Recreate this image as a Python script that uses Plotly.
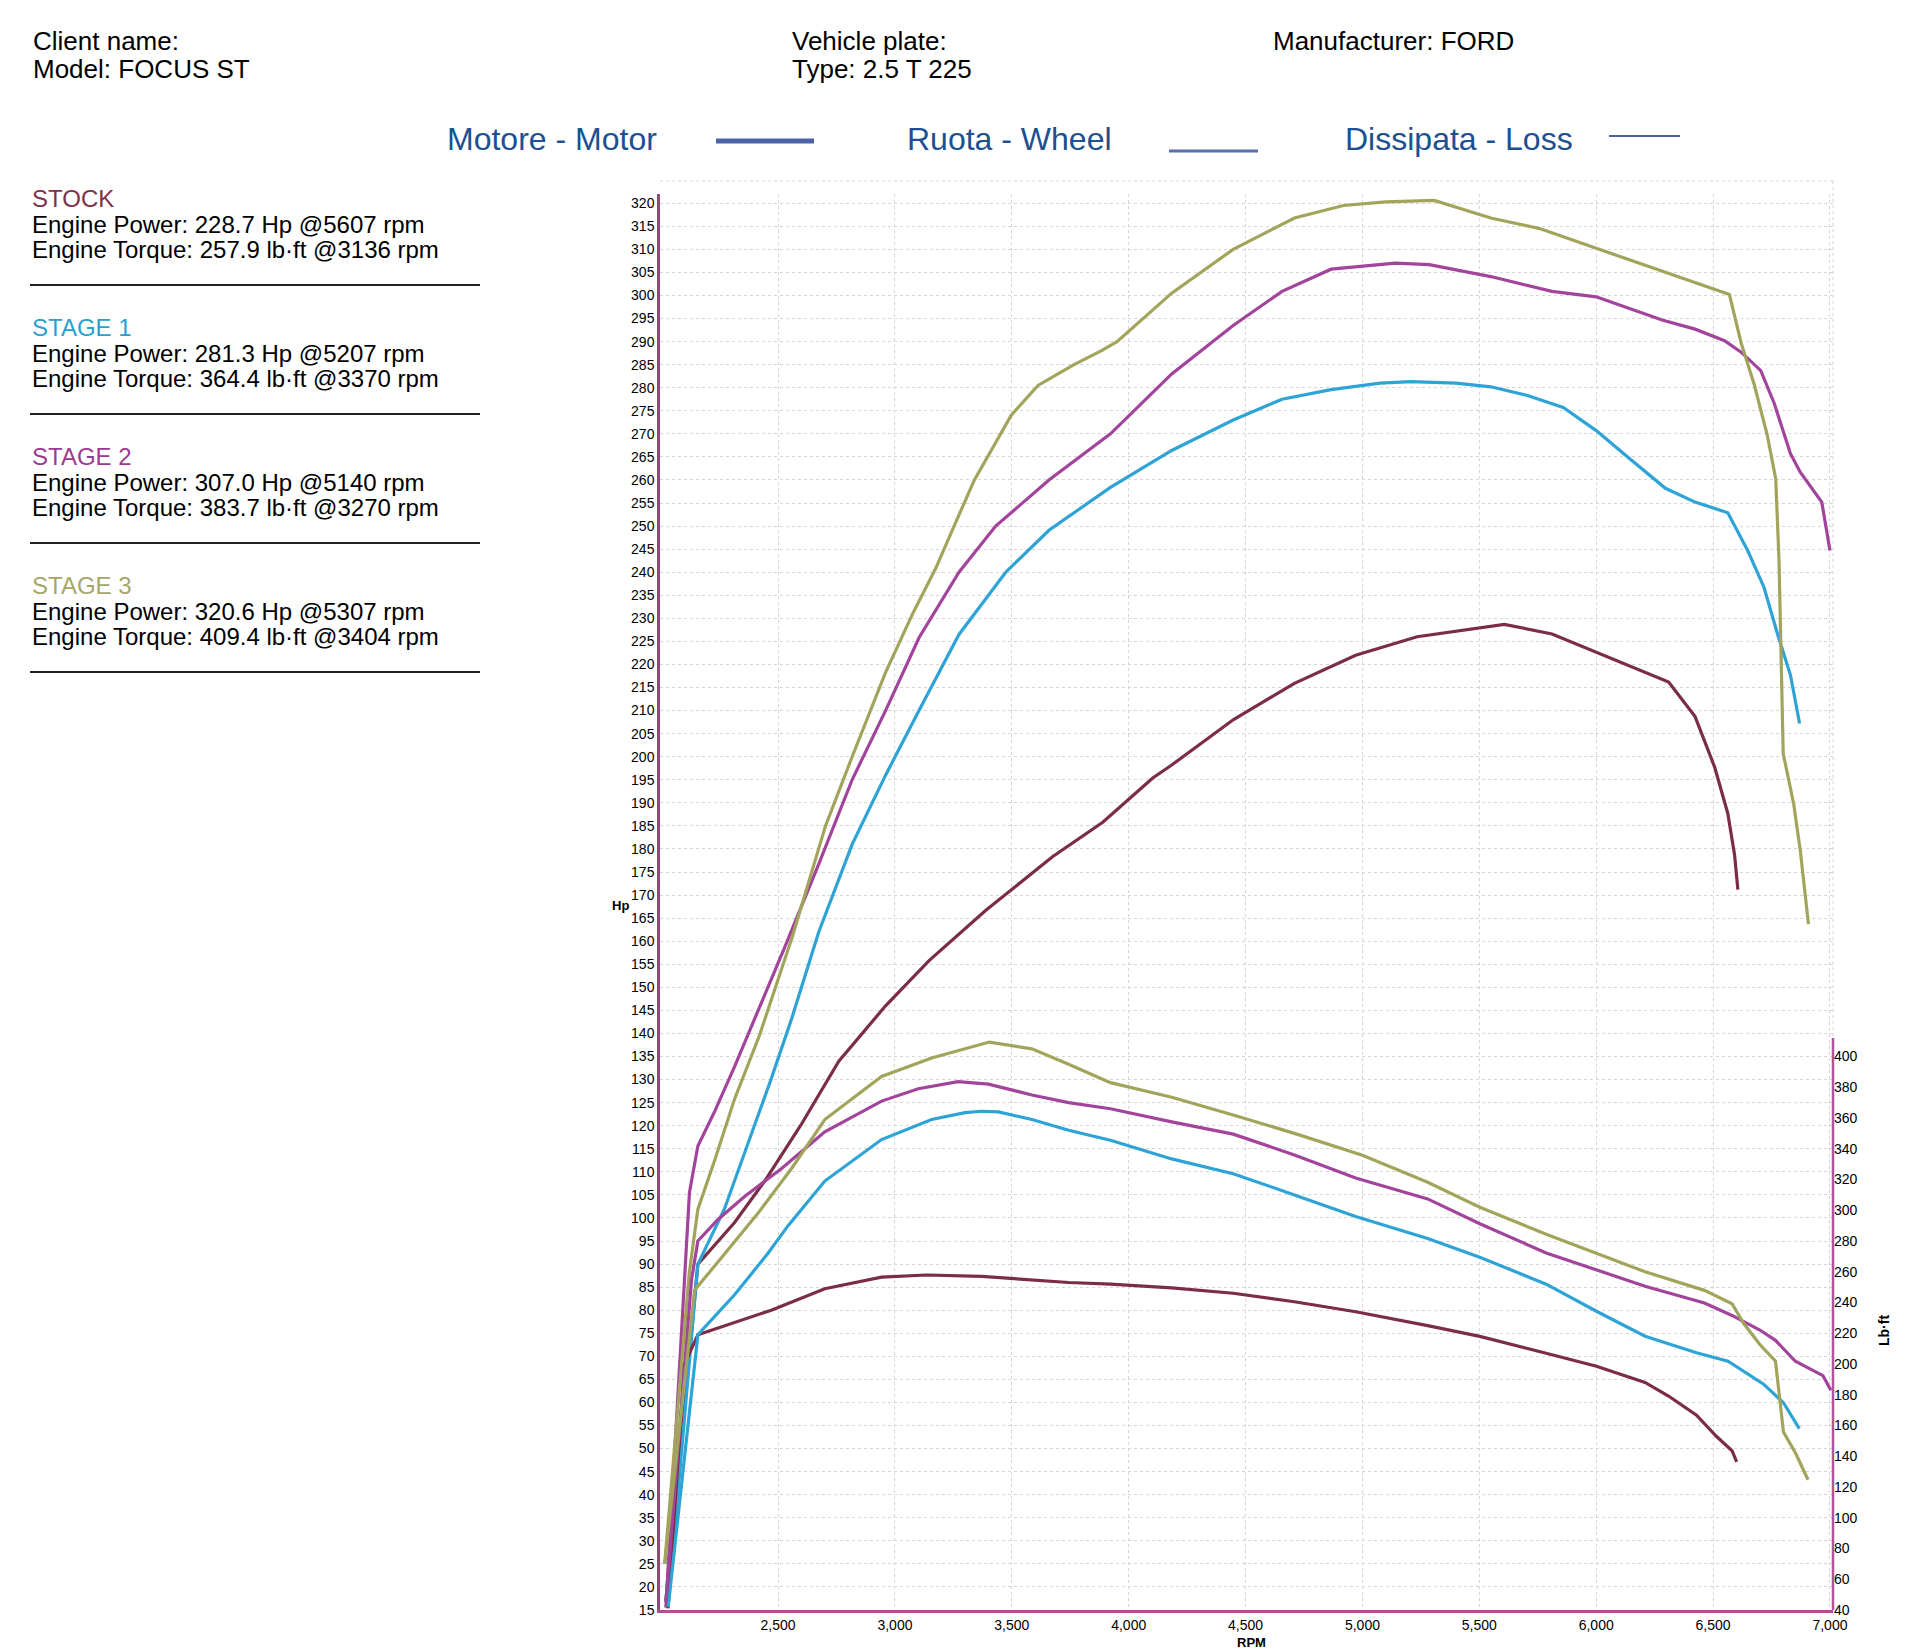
import plotly.graph_objects as go

# dyno sheet values
stage_names = ["STOCK", "STAGE 1", "STAGE 2", "STAGE 3"]
stage_colors = ["#7a2d45", "#2ea3d6", "#a2449b", "#a3a45c"]
label_colors = ["#7d3249", "#2a9fd0", "#9b3b8f", "#a6a66a"]
peak_power = [228.7, 281.3, 307.0, 320.6]
peak_power_rpm = [5607, 5207, 5140, 5307]
peak_torque = [257.9, 364.4, 383.7, 409.4]
peak_torque_rpm = [3136, 3370, 3270, 3404]

stock_hp_rpm = [2020, 2157, 2314, 2443, 2596, 2760, 2960, 3146, 3389, 3489, 3674, 3889, 4103, 4184,
                4447, 4709, 4971, 5234, 5496, 5607, 5811, 6000, 6141, 6310, 6423, 6507, 6563, 6592, 6606]
stock_hp = [17, 90, 99, 108, 120, 134, 146, 155.8, 166.7, 170.8, 178.3, 185.8, 195.4, 198.2,
            208, 215.9, 222, 226, 227.9, 228.7, 226.6, 222.7, 219.7, 216.2, 208.7, 197.7, 187.7, 178.7, 171.2]
stock_tq_rpm = [2029, 2100, 2157, 2314, 2471, 2700, 2943, 3136, 3371, 3743, 3922, 4184, 4447, 4709,
                4971, 5279, 5502, 5786, 6001, 6209, 6311, 6429, 6514, 6581, 6601]
stock_tq = [41, 200, 219, 227, 235, 249, 256.5, 257.9, 257, 253, 252, 249.5, 246, 240.5,
            234, 225, 218, 207, 198.5, 188, 179, 166.7, 153, 143.6, 136.3]

st1_hp_rpm = [2030, 2157, 2271, 2371, 2471, 2557, 2674, 2817, 2960, 3103, 3274, 3474, 3659, 3922, 4184,
              4447, 4656, 4866, 5076, 5207, 5400, 5549, 5706, 5859, 6000, 6141, 6296, 6423, 6563, 6648,
              6718, 6775, 6831, 6870]
st1_hp = [16, 90, 102, 116, 130.2, 143, 162, 181, 196, 210, 226.5, 240, 249.1, 258.4, 266.4,
          273, 277.5, 279.6, 281, 281.3, 281, 280.2, 278.3, 275.7, 270.7, 264.7, 258.2, 255.2, 252.9, 244.7,
          236.7, 226.7, 217.7, 207.2]
st1_tq_rpm = [2030, 2157, 2314, 2457, 2543, 2700, 2943, 3157, 3300, 3370, 3443, 3586, 3743, 3922, 4184,
              4447, 4709, 4971, 5279, 5502, 5786, 6001, 6209, 6429, 6564, 6716, 6801, 6869]
st1_tq = [42, 219, 245, 272, 290, 319, 346, 359, 363.5, 364.4, 364, 359, 352, 345.5, 333.4,
          323.8, 310, 296, 281.7, 269.5, 251.9, 234.3, 218.1, 207.3, 201.8, 186.9, 174.8, 158]

st2_hp_rpm = [2020, 2121, 2157, 2229, 2314, 2374, 2414, 2531, 2674, 2817, 2960, 3103, 3274, 3431, 3659,
              3922, 4184, 4447, 4656, 4866, 5140, 5286, 5549, 5811, 6000, 6141, 6282, 6423, 6549, 6620,
              6704, 6761, 6831, 6873, 6965, 7000]
st2_hp = [15.5, 105.5, 115.6, 123.1, 132.8, 140, 145, 159, 176.7, 195, 210, 225.8, 240, 250, 260,
          270, 283, 293.5, 300.9, 305.7, 307, 306.7, 304.1, 300.9, 299.7, 297.2, 294.7, 292.7, 290.2, 287.7,
          283.7, 276.7, 265.7, 261.7, 255.2, 244.7]
st2_tq_rpm = [2020, 2130, 2157, 2243, 2357, 2514, 2700, 2943, 3100, 3270, 3400, 3586, 3743, 3922, 4184,
              4447, 4709, 4971, 5279, 5502, 5786, 6001, 6209, 6463, 6581, 6700, 6767, 6852, 6970, 7004]
st2_tq = [45, 255, 280, 294, 309, 327, 351, 371, 379, 383.7, 382, 375, 370, 366, 357.5,
          349.5, 336, 321, 307.4, 291.2, 272.2, 261.4, 250.6, 239.7, 231.6, 222.1, 215.4, 201.8, 192.4, 182.9]

st3_hp_rpm = [2015, 2120, 2157, 2229, 2314, 2420, 2560, 2703, 2817, 2960, 3074, 3174, 3253, 3340, 3497,
              3612, 3766, 3882, 3950, 4184, 4447, 4709, 4919, 5100, 5307, 5549, 5758, 6000, 6141, 6282,
              6423, 6570, 6620, 6676, 6732, 6768, 6782, 6789, 6800, 6845, 6873, 6908]
st3_hp = [25, 88, 101.9, 112.5, 125.8, 139.5, 160.8, 185, 200, 218.3, 230.8, 240.8, 250, 260, 274,
          280.5, 285, 288, 290, 300.5, 310, 316.8, 319.5, 320.3, 320.6, 316.8, 314.5, 310.2, 307.7, 305.2,
          302.7, 300.2, 289.7, 280.7, 269.7, 260.2, 242.7, 225.7, 200.7, 189.7, 179.7, 163.7]
st3_tq_rpm = [2015, 2143, 2257, 2414, 2557, 2700, 2943, 3157, 3404, 3586, 3743, 3922, 4184, 4447, 4709,
              5000, 5279, 5502, 5786, 6001, 6209, 6463, 6581, 6632, 6700, 6767, 6801, 6852, 6906]
st3_tq = [70, 248, 269, 298, 327, 359, 387, 399, 409.4, 405, 395, 383, 373.5, 362, 350,
          335.8, 318.2, 302, 284.4, 272.2, 260, 247.9, 239.2, 226.2, 212.7, 201.8, 155.8, 142.3, 124.7]

x_ticks = [2500, 3000, 3500, 4000, 4500, 5000, 5500, 6000, 6500, 7000]
hp_ticks = list(range(15, 325, 5))
tq_ticks = list(range(40, 420, 20))

W, H = 1920, 1649
ML, MR, MT, MB = 652, 95, 186, 47
FONT = "Arial, 'Liberation Sans', sans-serif"
HP_RANGE = [15, 322]
TQ_RANGE = [40, 40 + 3 * (HP_RANGE[1] - HP_RANGE[0])]


def px(x):
    return (x - ML) / (W - ML - MR)


def py(y):
    return (H - MB - y) / (H - MT - MB)


fig = go.Figure()

power = [(stock_hp_rpm, stock_hp), (st1_hp_rpm, st1_hp), (st2_hp_rpm, st2_hp), (st3_hp_rpm, st3_hp)]
torque = [(stock_tq_rpm, stock_tq), (st1_tq_rpm, st1_tq), (st2_tq_rpm, st2_tq), (st3_tq_rpm, st3_tq)]

for name, color, (r, v) in zip(stage_names, stage_colors, power):
    fig.add_trace(go.Scatter(x=r, y=v, mode="lines", name=f"{name} Hp",
                             line=dict(color=color, width=3.2)))
for name, color, (r, v) in zip(stage_names, stage_colors, torque):
    fig.add_trace(go.Scatter(x=r, y=v, mode="lines", name=f"{name} lb-ft", yaxis="y2",
                             line=dict(color=color, width=3.2)))

annotations = []


def text(x, y, s, size=26, color="black", anchor="left", **kw):
    annotations.append(dict(x=px(x), y=py(y), xref="paper", yref="paper", text=s, showarrow=False,
                            xanchor=anchor, yanchor="middle",
                            font=dict(family=FONT, size=size, color=color), **kw))


# header
text(23, 33, "Client name:")
text(23, 61, "Model: FOCUS ST")
text(782, 33, "Vehicle plate:")
text(782, 61, "Type: 2.5 T 225")
text(1263, 33, "Manufacturer: FORD")

# legend row
legend_blue = "#1d4f91"
text(437, 131, "Motore - Motor", size=32, color=legend_blue)
text(897, 131, "Ruota - Wheel", size=32, color=legend_blue)
text(1335, 131, "Dissipata - Loss", size=32, color=legend_blue)

dotted = dict(color="#d6d6d6", width=1, dash="dot")
shapes = [
    dict(type="line", xref="paper", yref="paper", x0=px(708), x1=px(806), y0=py(133), y1=py(133),
         line=dict(color="#4b62a6", width=5)),
    dict(type="line", xref="paper", yref="paper", x0=px(1161), x1=px(1250), y0=py(143), y1=py(143),
         line=dict(color="#5a6fb0", width=3)),
    dict(type="line", xref="paper", yref="paper", x0=px(1601), x1=px(1672), y0=py(128), y1=py(128),
         line=dict(color="#4b62a6", width=2)),
    # dotted frame above and right of the grid
    dict(type="line", xref="paper", yref="paper", x0=0, x1=1, y0=py(173), y1=py(173), line=dotted),
    dict(type="line", xref="paper", yref="paper", x0=1, x1=1, y0=py(173), y1=py(1040), line=dotted),
    # right torque axis only runs up to the top of the torque scale
    dict(type="line", xref="paper", yref="y2", x0=1, x1=1, y0=40, y1=412,
         line=dict(color="#b0559a", width=2.5)),
]

# left summary panel
for i, name in enumerate(stage_names):
    top = 190 + i * 129
    text(22, top, name, size=24, color=label_colors[i])
    text(22, top + 26, f"Engine Power: {peak_power[i]:.1f} Hp @{peak_power_rpm[i]} rpm", size=24)
    text(22, top + 51, f"Engine Torque: {peak_torque[i]:.1f} lb·ft @{peak_torque_rpm[i]} rpm", size=24)
    shapes.append(dict(type="line", xref="paper", yref="paper", x0=px(22), x1=px(472),
                       y0=py(top + 87), y1=py(top + 87), line=dict(color="#222222", width=2)))

# axis titles
text(612, 897, "<b>Hp</b>", size=13, anchor="center")
text(1243, 1634, "<b>RPM</b>", size=13, anchor="center")
text(1876, 1323, "<b>Lb·ft</b>", size=14, anchor="center", textangle=-90)

grid = dict(showgrid=True, gridcolor="#d6d6d6", gridwidth=1, griddash="dot", zeroline=False, ticks="")

fig.update_layout(
    width=W,
    height=H,
    autosize=False,
    showlegend=False,
    plot_bgcolor="white",
    paper_bgcolor="white",
    margin=dict(l=ML, r=MR, t=MT, b=MB),
    font=dict(family=FONT, color="black"),
    xaxis=dict(range=[1995, 7013], tickvals=x_ticks, tickformat=",d",
               tickfont=dict(size=14), showline=True, linecolor="#b0508e", linewidth=3, **grid),
    yaxis=dict(range=HP_RANGE, tickvals=hp_ticks, tickfont=dict(size=14),
               showline=True, linecolor="#8e4b76", linewidth=2.5, **grid),
    yaxis2=dict(range=TQ_RANGE, tickvals=tq_ticks, tickfont=dict(size=14), overlaying="y",
                side="right", showgrid=False, zeroline=False, showline=False, ticks=""),
    annotations=annotations,
    shapes=shapes,
)

fig.write_html("out.html")
